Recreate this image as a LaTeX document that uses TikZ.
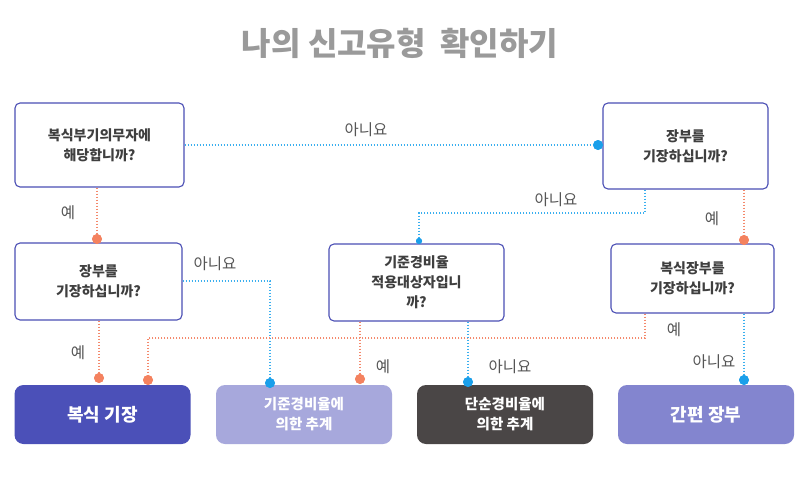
\documentclass[tikz,border=0pt]{standalone}
\usepackage{fontspec}
\setmainfont{Noto Sans CJK KR}
\newfontfamily\kr{Noto Sans CJK KR}
\usetikzlibrary{calc}
\definecolor{ttl}{HTML}{9A9A9A}
\definecolor{bord}{HTML}{4B4FB5}
\definecolor{btxt}{HTML}{3F3F3F}
\definecolor{lbl}{HTML}{555555}
\definecolor{bl}{HTML}{3AAFEF}
\definecolor{bdotc}{HTML}{1A9FEA}
\definecolor{sl}{HTML}{F4896C}
\definecolor{sdotc}{HTML}{F4825F}
\definecolor{rA}{HTML}{4B50B8}
\definecolor{rB}{HTML}{A7A8DC}
\definecolor{rC}{HTML}{4A4646}
\definecolor{rD}{HTML}{8385CF}
\begin{document}
\begin{tikzpicture}[x=1pt,y=-1pt,
  qbox/.style={draw=bord,line width=1.1pt,rounded corners=5pt,fill=white,
    align=center,text=btxt,font=\kr\bfseries\fontsize{14}{20}\selectfont,
    inner sep=0pt},
  rbox/.style={rounded corners=9pt,draw=none,align=center,text=white,
    inner sep=0pt,minimum height=59pt,minimum width=176pt},
  bline/.style={draw=bl,line width=1.7pt,dash pattern=on 1.4pt off 1.6pt},
  sline/.style={draw=sl,line width=1.7pt,dash pattern=on 1.4pt off 1.6pt},
  bdot/.style={circle,fill=bdotc,minimum size=10pt,inner sep=0pt},
  sdot/.style={circle,fill=sdotc,minimum size=10pt,inner sep=0pt},
  lab/.style={text=lbl,font=\kr\fontsize{15.5}{17}\selectfont,inner sep=0pt}]
\useasboundingbox (0,0) rectangle (800,500);
\fill[white] (0,0) rectangle (800,500);
% title
\node[text=ttl,font=\kr\bfseries\fontsize{32}{34}\selectfont] (title) at (400,43) {나의 신고유형\ \ 확인하기};
% question boxes
\node[qbox,minimum width=169pt,minimum height=84pt] (b1) at (99.5,145) {복식부기의무자에\\해당합니까?};
\node[qbox,minimum width=165pt,minimum height=86pt] (b2) at (685.5,146) {장부를\\기장하십니까?};
\node[qbox,minimum width=167pt,minimum height=77pt] (b3) at (98.5,281.5) {장부를\\기장하십니까?};
\node[qbox,minimum width=175pt,minimum height=77pt] (b4) at (416.5,282.5) {기준경비율\\적용대상자입니\\까?};
\node[qbox,minimum width=163pt,minimum height=69pt] (b5) at (692.5,278.5) {복식장부를\\기장하십니까?};
% result boxes
\node[rbox,fill=rA,font=\kr\bfseries\fontsize{18}{20}\selectfont] (r1) at (102.5,414.5) {복식 기장};
\node[rbox,fill=rB,font=\kr\bfseries\fontsize{14.5}{20}\selectfont] (r2) at (304,414.5) {기준경비율에\\의한 추계};
\node[rbox,fill=rC,font=\kr\bfseries\fontsize{14.5}{20}\selectfont] (r3) at (505,414.5) {단순경비율에\\의한 추계};
\node[rbox,fill=rD,font=\kr\bfseries\fontsize{18}{20}\selectfont] (r4) at (706,414.5) {간편 장부};
% end dots
\node[bdot] (d1) at (598,145) {};
\node[sdot] (d2) at (97,239) {};
\node[bdot,minimum size=6pt] (d3) at (419,241) {};
\node[sdot] (d4) at (744,240) {};
\node[bdot] (d5) at (270,383) {};
\node[sdot] (d6) at (99,378) {};
\node[sdot] (d7) at (148,380) {};
\node[sdot] (d8) at (360,379) {};
\node[bdot] (d9) at (468,382) {};
\node[bdot] (d10) at (744,380) {};
% bend points
\coordinate (k3) at (645,213);
\coordinate (k5) at (270,281);
\coordinate (k7) at (645,338);
% connectors
\draw[bline] (b1.east) -- (d1);
\draw[sline] (b1.south -| d2) -- (d2);
\draw[bline] (b2.south -| k3) -- (k3) -- (k3 -| d3) -- (d3);
\draw[sline] (b2.south -| d4) -- (d4);
\draw[bline] (b3.east |- k5) -- (k5) -- (d5);
\draw[sline] (b3.south -| d6) -- (d6);
\draw[sline] (b5.south -| k7) -- (k7) -- (k7 -| d7) -- (d7);
\draw[sline] (b4.south -| d8) -- (d8);
\draw[bline] (b4.south -| d9) -- (d9);
\draw[bline] (b5.south -| d10) -- (d10);
% redraw dots on top
\foreach \n in {d1,d5,d9,d10} \fill[bdotc] (\n) circle (4.8pt);
\fill[bdotc] (d3) circle (3pt);
\foreach \n in {d2,d4,d6,d7,d8} \fill[sdotc] (\n) circle (4.8pt);
% labels
\node[lab] (l1) at (366,130) {아니요};
\node[lab] (l2) at (556,200) {아니요};
\node[lab] (l3) at (215,264) {아니요};
\node[lab] (l4) at (510,367) {아니요};
\node[lab] (l5) at (714,362) {아니요};
\node[lab] (l6) at (68,213) {예};
\node[lab] (l7) at (712,219) {예};
\node[lab] (l8) at (78,353) {예};
\node[lab] (l9) at (383,367) {예};
\node[lab] (l10) at (674,330) {예};
\end{tikzpicture}
\end{document}
